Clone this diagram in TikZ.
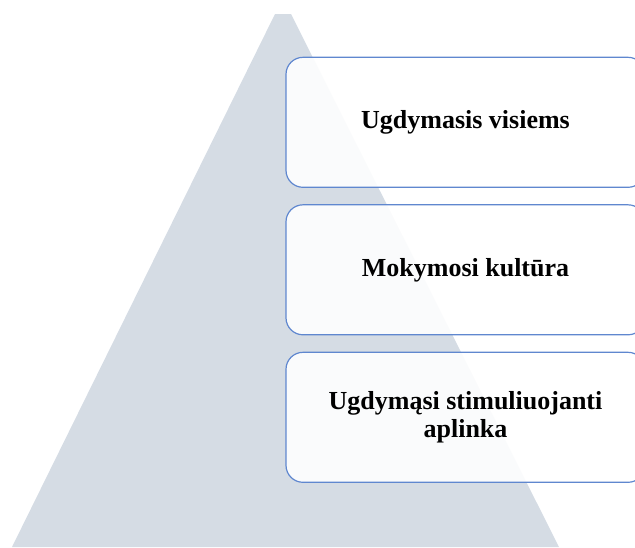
\documentclass[tikz,border=0pt]{standalone}
\usepackage{fontspec}
\setmainfont{Liberation Serif}
\begin{document}
\begin{tikzpicture}[x=1pt,y=-1pt,
  tri/.style={fill=pyr,draw=none},
  levelbox/.style={draw=boxline,line width=1.2pt,fill=white,fill opacity=0.9,text opacity=1,
    rounded corners=17pt,minimum width=359pt,minimum height=130pt,
    align=center,font=\fontsize{26}{28}\selectfont\bfseries,inner sep=0pt}]
\definecolor{pyr}{HTML}{D5DCE4}
\definecolor{boxline}{HTML}{5F87CF}
\useasboundingbox (0,0) rectangle (635,547);
\begin{scope}
\clip (0,0) rectangle (635,547);
\fill[tri] (275,14) -- (291,14) -- (559,547) -- (12,547) -- cycle;
\node[levelbox] (b1) at (465.5,122.3) {Ugdymasis visiems};
\node[levelbox] (b2) at (465.5,269.8) {Mokymosi kultūra};
\node[levelbox] (b3) at (465.5,417.3) {Ugdymąsi stimuliuojanti\\aplinka};
\end{scope}
\end{tikzpicture}
\end{document}
